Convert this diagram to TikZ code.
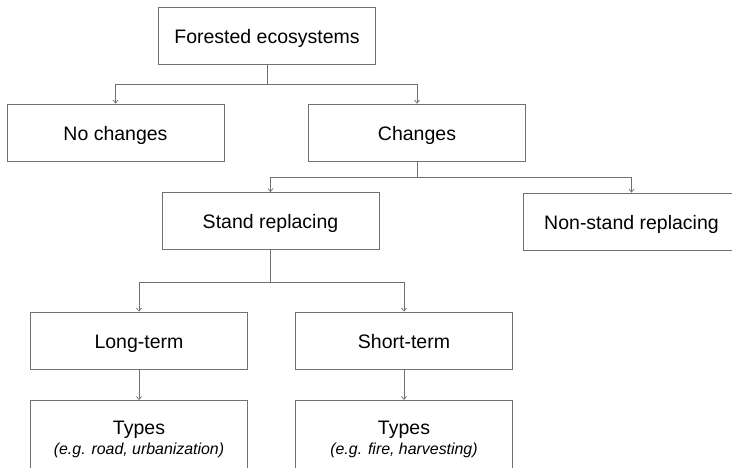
\documentclass[tikz,border=0pt]{standalone}
\usepackage{fontspec}
\setmainfont{Liberation Sans}
\usetikzlibrary{arrows.meta}
\definecolor{linegray}{HTML}{707070}
\begin{document}
\begin{tikzpicture}[x=1pt,y=-1pt,
  basebox/.style={draw=linegray,line width=0.9pt,minimum width=217pt,minimum height=57pt,
    inner sep=0pt,font=\fontsize{19.5}{23}\selectfont,align=center},
  box/.style={basebox,text height=19pt,text depth=4pt},
  tallbox/.style={basebox,minimum height=77pt,anchor=north},
  conn/.style={draw=linegray,line width=0.8pt},
  arr/.style={conn,-{Straight Barb[length=3pt,width=5pt,line width=0.7pt]}}]
\useasboundingbox (0,0) rectangle (732,467);
\clip (0,0) rectangle (732,467);
\node[box] (F) at (267,35.5) {Forested ecosystems};
\node[box] (NC) at (115.5,132.5) {No changes};
\node[box] (C) at (417,132.5) {Changes};
\node[box] (SR) at (270.5,221) {Stand replacing};
\node[box] (NSR) at (631.5,221.5) {Non-stand replacing};
\node[box] (LT) at (139,340.5) {Long-term};
\node[box] (ST) at (404,340.5) {Short-term};
\node[tallbox] (T1) at (139,400) {Types\\[-3pt]{\fontsize{15.9}{18}\selectfont\itshape (e.g. road, urbanization)}};
\node[tallbox] (T2) at (404,400) {Types\\[-3pt]{\fontsize{15.9}{18}\selectfont\itshape (e.g. fire, harvesting)}};
\coordinate (j1) at (267,84);
\coordinate (j2) at (417,177);
\coordinate (j3) at (270.5,282);
\draw[conn] (F.south) -- (j1);
\draw[arr] (j1) -| (NC.north);
\draw[arr] (j1) -| (C.north);
\draw[conn] (C.south) -- (j2);
\draw[arr] (j2) -| (SR.north);
\draw[arr] (j2) -| (NSR.north);
\draw[conn] (SR.south) -- (j3);
\draw[arr] (j3) -| (LT.north);
\draw[arr] (j3) -| (ST.north);
\draw[arr] (LT.south) -- (T1.north);
\draw[arr] (ST.south) -- (T2.north);
\end{tikzpicture}
\end{document}
